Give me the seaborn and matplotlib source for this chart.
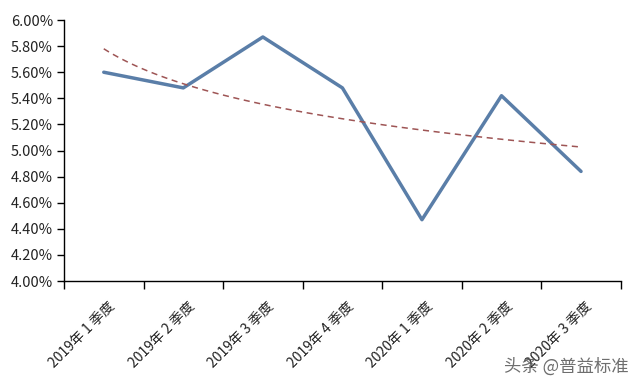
import numpy as np
import matplotlib
matplotlib.use("Agg")
import matplotlib.pyplot as plt
import matplotlib.transforms as mtransforms
from matplotlib.ticker import FuncFormatter, FixedLocator
import seaborn as sns

categories = ["2019年 1 季度", "2019年 2 季度", "2019年 3 季度", "2019年 4 季度",
              "2020年 1 季度", "2020年 2 季度", "2020年 3 季度"]
rates = [5.60, 5.48, 5.87, 5.48, 4.47, 5.42, 4.84]
y_ticks = [4.0, 4.2, 4.4, 4.6, 4.8, 5.0, 5.2, 5.4, 5.6, 5.8, 6.0]

sns.set_theme(style="ticks")
plt.rcParams["font.family"] = ["Noto Sans CJK SC", "DejaVu Sans"]

fig = plt.figure(figsize=(6.4, 3.85), dpi=100)
fig.patch.set_facecolor("white")
ax = fig.add_axes([0.1, 0.27, 0.87, 0.678])

pos = np.arange(1, len(categories) + 1)
sns.lineplot(x=pos, y=rates, ax=ax, color="#5A7EA8", lw=2.5, zorder=3)
sns.regplot(x=pos, y=rates, ax=ax, logx=True, ci=None, scatter=False,
            line_kws=dict(ls=(0, (4, 3)), color="#9E5555", lw=1.1, zorder=4))

ax.set_xlim(0.5, len(categories) + 0.5)
ax.set_ylim(4.0, 6.0)
ax.yaxis.set_major_locator(FixedLocator(y_ticks))
ax.yaxis.set_major_formatter(FuncFormatter(lambda v, p: f"{v:.2f}%"))
ax.tick_params(axis="y", labelsize=10.5, length=5, width=1, color="black", pad=3, labelcolor="#222222")

ax.set_xticks(np.arange(0.5, len(categories) + 1, 1.0))
ax.set_xticklabels([])
ax.tick_params(axis="x", which="major", length=6, width=1, color="black")
ax.set_xticks(pos, minor=True)
ax.set_xticklabels(categories, minor=True, rotation=45, ha="right", va="top",
                   rotation_mode="anchor", fontsize=10, color="#222222")
ax.tick_params(axis="x", which="minor", length=0, pad=13)
offset = mtransforms.ScaledTranslation(4 / 100, 0, fig.dpi_scale_trans)
for lab in ax.get_xticklabels(minor=True):
    lab.set_transform(lab.get_transform() + offset)

ax.set_xlabel("")
ax.set_ylabel("")
for s in ["top", "right"]:
    ax.spines[s].set_visible(False)
for s in ["left", "bottom"]:
    ax.spines[s].set_color("black")
    ax.spines[s].set_linewidth(1.0)

fig.text(0.982, 0.048, "头条 @普益标准", ha="right", va="center", fontsize=12.5,
         color="#555555", alpha=0.85)

fig.savefig("out.png", dpi=100, facecolor="white")
